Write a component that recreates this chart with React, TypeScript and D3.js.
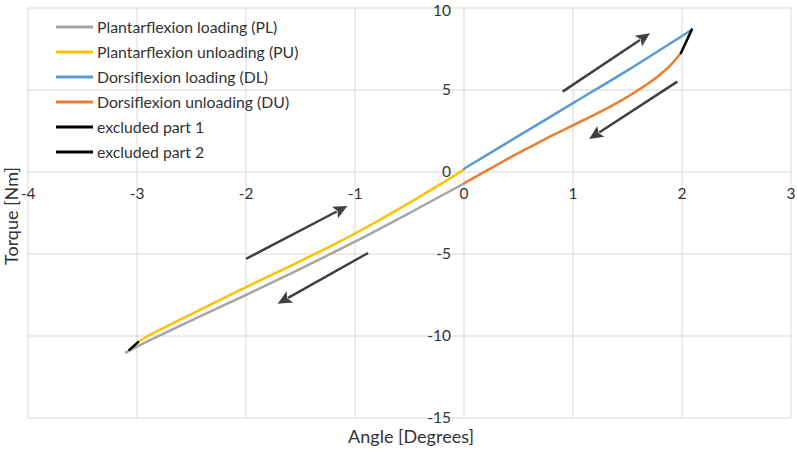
import React from "react";
import * as d3 from "d3";

const plX = [0, -0.5, -1, -1.5, -2, -2.5, -3, -3.1];
const plY = [-0.7, -2.5, -4.25, -5.9, -7.5, -9.05, -10.65, -11.0];

const puX = [-2.99, -2.9, -2.8, -2.6, -2.4, -2.2, -2.0, -1.8, -1.6, -1.4, -1.2, -1.0, -0.8, -0.6, -0.4, -0.2, 0];
const puY = [-10.37, -10.0, -9.65, -8.99, -8.33, -7.67, -7.02, -6.38, -5.75, -5.1, -4.44, -3.75, -3.02, -2.26, -1.48, -0.68, 0.15];

const dlX = [0, 0.5, 1, 1.5, 2.09];
const dlY = [0.2, 2.2, 4.2, 6.2, 8.68];

const duX = [1.99, 1.9, 1.8, 1.6, 1.4, 1.2, 1.0, 0.8, 0.6, 0.4, 0.2, 0];
const duY = [7.26, 6.55, 5.95, 5.0, 4.2, 3.5, 2.85, 2.2, 1.5, 0.8, 0.05, -0.68];

const ex1X = [-3.07, -2.99];
const ex1Y = [-10.85, -10.37];

const ex2X = [2.09, 1.99];
const ex2Y = [8.68, 7.26];

const xTicks = [-4, -3, -2, -1, 0, 1, 2, 3];
const yTicks = [-15, -10, -5, 0, 5, 10];

const seriesNames = [
  "Plantarflexion loading (PL)",
  "Plantarflexion unloading (PU)",
  "Dorsiflexion loading (DL)",
  "Dorsiflexion unloading (DU)",
  "excluded part 1",
  "excluded part 2",
];
const seriesColors = ["#a5a5a5", "#ffc000", "#5b9bd5", "#ed7d31", "#000000", "#000000"];

// arrows (tail -> tip) in data units
const arrowTailX = [-2.0, -0.88, 0.905, 1.957];
const arrowTailY = [-5.3, -4.94, 4.9, 5.51];
const arrowTipX = [-1.07, -1.71, 1.706, 1.148];
const arrowTipY = [-2.07, -8.03, 8.46, 2.01];

const zip = (xs: number[], ys: number[]) => xs.map((x, i) => [x, ys[i]] as [number, number]);

export default function App() {
  const W = 797, H = 452;
  const x = d3.scaleLinear().domain([-4, 3]).range([28, 791]);
  const y = d3.scaleLinear().domain([-15, 10]).range([418, 8]);
  const line = d3.line<[number, number]>().x(d => x(d[0])).y(d => y(d[1])).curve(d3.curveMonotoneX);
  const lineStraight = d3.line<[number, number]>().x(d => x(d[0])).y(d => y(d[1]));

  const series = [
    zip(plX, plY),
    zip(puX, puY),
    zip(dlX, dlY),
    zip(duX, duY),
    zip(ex1X, ex1Y),
    zip(ex2X, ex2Y),
  ];
  const font = "Lato, 'Open Sans', sans-serif";
  const grid = "#d9d9d9";
  const textColor = "#333333";

  const arrows = arrowTailX.map((tx, i) => {
    const x1 = x(tx), y1 = y(arrowTailY[i]);
    const x2 = x(arrowTipX[i]), y2 = y(arrowTipY[i]);
    const dx = x2 - x1, dy = y2 - y1;
    const len = Math.hypot(dx, dy);
    const ux = dx / len, uy = dy / len;
    const hl = 14, hw = 6.5;
    const bx = x2 - ux * hl, by = y2 - uy * hl;
    const pts = [
      [x2, y2],
      [bx - uy * hw, by + ux * hw],
      [bx + ux * 3, by + uy * 3],
      [bx + uy * hw, by - ux * hw],
    ];
    return { x1, y1, bx: bx + ux * 2, by: by + uy * 2, pts };
  });

  return (
    <svg width={W} height={H} style={{ position: "absolute", left: 0, top: 0, background: "#fff" }}>
      <rect x={0} y={0} width={W} height={H} fill="#fff" />
      {xTicks.map(t => (
        <line key={"gx" + t} x1={x(t)} x2={x(t)} y1={y(10)} y2={y(-15)} stroke={grid} strokeWidth={1} />
      ))}
      {yTicks.map(t => (
        <line key={"gy" + t} x1={x(-4)} x2={x(3)} y1={y(t)} y2={y(t)} stroke={grid} strokeWidth={1} />
      ))}
      {xTicks.map(t => (
        <text key={"tx" + t} x={x(t)} y={199} textAnchor="middle" fontFamily={font} fontSize={15.5} fill={textColor}>
          {t}
        </text>
      ))}
      {yTicks.map(t => (
        <text key={"ty" + t} x={451} y={Math.max(y(t) + 5.4, 16)} textAnchor="end" fontFamily={font} fontSize={15.5} fill={textColor}>
          {t}
        </text>
      ))}
      {series.map((s, i) => (
        <path key={"s" + i} d={(i >= 4 ? lineStraight(s) : line(s)) || ""} fill="none" stroke={seriesColors[i]} strokeWidth={2.5} strokeLinecap="round" />
      ))}
      {arrows.map((a, i) => (
        <g key={"a" + i}>
          <line x1={a.x1} y1={a.y1} x2={a.bx} y2={a.by} stroke="#404040" strokeWidth={2.5} />
          <polygon points={a.pts.map(p => p.join(",")).join(" ")} fill="#404040" />
        </g>
      ))}
      {seriesNames.map((n, i) => (
        <g key={"l" + i}>
          <line x1={56} x2={93} y1={27 + i * 25} y2={27 + i * 25} stroke={seriesColors[i]} strokeWidth={3} />
          <text x={97} y={27 + i * 25} dy="0.35em" fontFamily={font} fontSize={15.8} fill={textColor}>
            {n}
          </text>
        </g>
      ))}
      <text x={411} y={443} textAnchor="middle" fontFamily={font} fontSize={18} fill={textColor}>
        Angle [Degrees]
      </text>
      <text transform={`translate(18,216) rotate(-90)`} textAnchor="middle" fontFamily={font} fontSize={18} fill={textColor}>
        Torque [Nm]
      </text>
    </svg>
  );
}
